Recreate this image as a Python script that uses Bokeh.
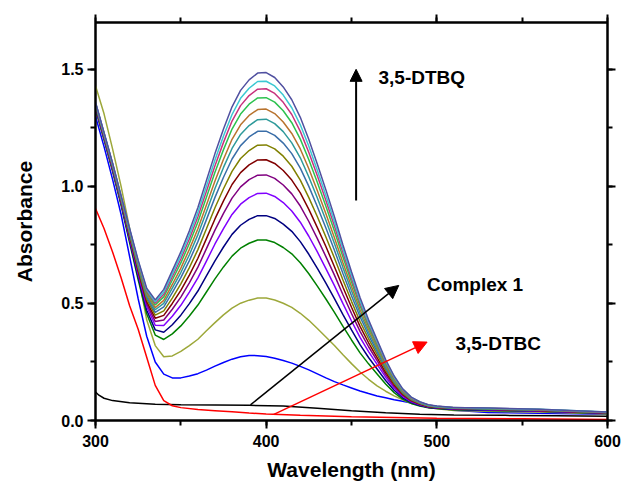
from bokeh.plotting import figure
from bokeh.models import (Range1d, LinearAxis, Arrow, NormalHead, Label,
                          SingleIntervalTicker, NumeralTickFormatter,
                          CustomJSTickFormatter)
from bokeh.embed import file_html
from bokeh.resources import INLINE

# ---------------- data ----------------
wl = [300, 305, 310, 315, 320, 325, 330, 335, 340, 345, 350, 355, 360, 365, 370,
      375, 380, 385, 390, 395, 400, 405, 410, 415, 420, 425, 430, 435, 440, 445,
      450, 455, 460, 465, 470, 475, 480, 485, 490, 495, 500, 510, 530, 560, 600]

complex1_wl = [300, 302, 305, 310, 320, 335, 350, 370, 390, 410, 430, 450, 470,
               490, 510, 540, 570, 600]
complex1 = [0.122, 0.108, 0.095, 0.085, 0.076, 0.069, 0.067, 0.066, 0.065, 0.062,
            0.052, 0.042, 0.033, 0.027, 0.024, 0.022, 0.020, 0.018]

dtbc_wl = [300, 305, 310, 315, 320, 325, 330, 335, 340, 345, 350, 360, 370, 380,
           390, 400, 420, 450, 500, 550, 600]
dtbc = [0.905, 0.82, 0.72, 0.61, 0.49, 0.39, 0.27, 0.15, 0.085, 0.063, 0.055, 0.047,
        0.042, 0.037, 0.032, 0.028, 0.022, 0.016, 0.010, 0.007, 0.004]

scan01 = [1.30, 1.17, 1.03, 0.88, 0.70, 0.52, 0.36, 0.25, 0.198, 0.182, 0.182, 0.19,
          0.200, 0.215, 0.232, 0.248, 0.262, 0.272, 0.278, 0.277, 0.273, 0.266, 0.256,
          0.245, 0.231, 0.216, 0.199, 0.182, 0.166, 0.152, 0.139, 0.126, 0.115, 0.105,
          0.097, 0.089, 0.082, 0.075, 0.068, 0.061, 0.054, 0.044, 0.034, 0.031, 0.027]
scan02 = [1.43, 1.31, 1.16, 1.00, 0.82, 0.62, 0.43, 0.32, 0.272, 0.276, 0.295, 0.320,
          0.347, 0.383, 0.418, 0.451, 0.480, 0.501, 0.514, 0.523, 0.523, 0.515, 0.501,
          0.483, 0.458, 0.428, 0.393, 0.357, 0.320, 0.281, 0.243, 0.207, 0.176, 0.148,
          0.125, 0.105, 0.088, 0.074, 0.064, 0.056, 0.050, 0.043, 0.039, 0.036, 0.028]
scan03 = [1.329, 1.199, 1.064, 0.919, 0.759, 0.601, 0.456, 0.365, 0.346, 0.370, 0.404,
          0.446, 0.493, 0.549, 0.605, 0.656, 0.702, 0.736, 0.757, 0.771, 0.771, 0.760,
          0.739, 0.712, 0.674, 0.627, 0.574, 0.519, 0.462, 0.402, 0.344, 0.289, 0.242,
          0.199, 0.156, 0.119, 0.091, 0.073, 0.062, 0.054, 0.051, 0.046, 0.043, 0.039,
          0.030]
scan04 = [1.334, 1.204, 1.070, 0.925, 0.768, 0.613, 0.471, 0.387, 0.377, 0.409, 0.450,
          0.499, 0.553, 0.618, 0.682, 0.741, 0.795, 0.834, 0.859, 0.875, 0.875, 0.863,
          0.839, 0.808, 0.764, 0.710, 0.650, 0.587, 0.521, 0.452, 0.387, 0.324, 0.269,
          0.220, 0.171, 0.129, 0.097, 0.077, 0.064, 0.056, 0.052, 0.047, 0.044, 0.040,
          0.031]
scan05 = [1.338, 1.208, 1.074, 0.931, 0.776, 0.624, 0.486, 0.407, 0.406, 0.445, 0.492,
          0.548, 0.609, 0.681, 0.754, 0.820, 0.880, 0.924, 0.952, 0.970, 0.971, 0.957,
          0.931, 0.895, 0.847, 0.787, 0.720, 0.649, 0.576, 0.499, 0.425, 0.355, 0.294,
          0.240, 0.185, 0.139, 0.103, 0.080, 0.067, 0.058, 0.054, 0.049, 0.046, 0.041,
          0.032]
scan06 = [1.341, 1.211, 1.078, 0.935, 0.783, 0.634, 0.498, 0.423, 0.429, 0.475, 0.527,
          0.588, 0.655, 0.734, 0.813, 0.885, 0.950, 0.998, 1.029, 1.048, 1.049, 1.034,
          1.006, 0.968, 0.916, 0.850, 0.777, 0.700, 0.621, 0.537, 0.457, 0.381, 0.315,
          0.256, 0.196, 0.146, 0.108, 0.083, 0.069, 0.059, 0.055, 0.050, 0.047, 0.042,
          0.032]
scan07 = [1.344, 1.214, 1.081, 0.939, 0.788, 0.641, 0.508, 0.437, 0.449, 0.500, 0.556,
          0.621, 0.693, 0.777, 0.861, 0.938, 1.008, 1.059, 1.092, 1.113, 1.114, 1.098,
          1.068, 1.027, 0.972, 0.902, 0.824, 0.743, 0.657, 0.569, 0.484, 0.402, 0.332,
          0.269, 0.206, 0.153, 0.112, 0.086, 0.070, 0.060, 0.056, 0.051, 0.048, 0.043,
          0.033]
scan08 = [1.347, 1.217, 1.085, 0.942, 0.794, 0.649, 0.518, 0.450, 0.468, 0.523, 0.584,
          0.653, 0.730, 0.819, 0.909, 0.990, 1.064, 1.119, 1.153, 1.176, 1.177, 1.160,
          1.129, 1.086, 1.027, 0.952, 0.870, 0.784, 0.694, 0.600, 0.509, 0.423, 0.349,
          0.282, 0.215, 0.159, 0.116, 0.088, 0.072, 0.062, 0.057, 0.052, 0.049, 0.044,
          0.033]
scan09 = [1.349, 1.219, 1.088, 0.946, 0.799, 0.656, 0.527, 0.462, 0.485, 0.546, 0.610,
          0.683, 0.764, 0.858, 0.953, 1.039, 1.117, 1.174, 1.211, 1.235, 1.236, 1.218,
          1.185, 1.140, 1.078, 1.000, 0.913, 0.822, 0.727, 0.628, 0.533, 0.443, 0.364,
          0.294, 0.224, 0.165, 0.120, 0.090, 0.074, 0.063, 0.058, 0.052, 0.049, 0.045,
          0.034]
scan10 = [1.351, 1.221, 1.090, 0.949, 0.803, 0.662, 0.534, 0.473, 0.500, 0.565, 0.632,
          0.708, 0.794, 0.892, 0.991, 1.081, 1.162, 1.222, 1.260, 1.285, 1.287, 1.268,
          1.234, 1.186, 1.122, 1.040, 0.950, 0.855, 0.756, 0.653, 0.554, 0.459, 0.377,
          0.304, 0.231, 0.170, 0.123, 0.092, 0.075, 0.063, 0.059, 0.053, 0.050, 0.045,
          0.034]
scan11 = [1.353, 1.223, 1.092, 0.951, 0.807, 0.667, 0.541, 0.482, 0.513, 0.581, 0.651,
          0.731, 0.819, 0.921, 1.023, 1.116, 1.201, 1.263, 1.303, 1.328, 1.330, 1.311,
          1.275, 1.226, 1.160, 1.075, 0.981, 0.883, 0.781, 0.674, 0.572, 0.474, 0.389,
          0.313, 0.237, 0.174, 0.125, 0.094, 0.076, 0.064, 0.060, 0.054, 0.051, 0.046,
          0.035]
scan12 = [1.355, 1.225, 1.095, 0.954, 0.811, 0.672, 0.549, 0.493, 0.528, 0.600, 0.673,
          0.756, 0.848, 0.954, 1.060, 1.157, 1.245, 1.309, 1.351, 1.378, 1.379, 1.360,
          1.323, 1.272, 1.202, 1.114, 1.017, 0.915, 0.809, 0.698, 0.592, 0.490, 0.402,
          0.323, 0.244, 0.179, 0.128, 0.096, 0.077, 0.065, 0.060, 0.054, 0.051, 0.047,
          0.035]
scan13 = [1.357, 1.227, 1.097, 0.956, 0.814, 0.677, 0.554, 0.501, 0.539, 0.614, 0.690,
          0.775, 0.870, 0.979, 1.088, 1.188, 1.279, 1.345, 1.388, 1.415, 1.417, 1.397,
          1.359, 1.307, 1.235, 1.145, 1.045, 0.940, 0.831, 0.716, 0.607, 0.502, 0.412,
          0.331, 0.250, 0.183, 0.131, 0.097, 0.078, 0.066, 0.061, 0.055, 0.052, 0.047,
          0.035]
scan14 = [1.358, 1.228, 1.098, 0.958, 0.817, 0.681, 0.559, 0.507, 0.549, 0.626, 0.704,
          0.791, 0.889, 1.001, 1.113, 1.215, 1.307, 1.376, 1.419, 1.448, 1.449, 1.429,
          1.390, 1.336, 1.263, 1.171, 1.068, 0.961, 0.849, 0.732, 0.620, 0.513, 0.420,
          0.338, 0.255, 0.186, 0.133, 0.099, 0.079, 0.066, 0.061, 0.055, 0.052, 0.048,
          0.036]
scan15 = [1.36, 1.23, 1.10, 0.96, 0.82, 0.685, 0.565, 0.515, 0.56, 0.64, 0.72, 0.81,
          0.91, 1.025, 1.14, 1.245, 1.34, 1.41, 1.455, 1.484, 1.486, 1.465, 1.425, 1.37,
          1.295, 1.20, 1.095, 0.985, 0.87, 0.75, 0.635, 0.525, 0.43, 0.345, 0.26, 0.19,
          0.135, 0.10, 0.08, 0.067, 0.062, 0.056, 0.053, 0.048, 0.036]

scans = [scan01, scan02, scan03, scan04, scan05, scan06, scan07, scan08, scan09,
         scan10, scan11, scan12, scan13, scan14, scan15]

# ---------------- styles ----------------
scan_colors = ["#0000FF", "#9DA83A", "#008000", "#000080", "#8000FF", "#800080",
               "#800000", "#808000", "#3A6EA8", "#2E9A9A", "#B8732E", "#2DC24F",
               "#C8327D", "#3CC8D2", "#5050A0"]
FONT = "Liberation Sans"

p = figure(width=622, height=486, output_backend="svg", toolbar_location=None,
           x_range=Range1d(300, 600), y_range=Range1d(0, 1.70),
           min_border_left=95, min_border_right=15, min_border_top=22,
           min_border_bottom=66)
p.background_fill_color = "white"
p.border_fill_color = "white"
p.outline_line_color = "black"
p.outline_line_width = 2
p.grid.visible = False

p.line(complex1_wl, complex1, line_color="black", line_width=1.5)
p.line(dtbc_wl, dtbc, line_color="#FF0000", line_width=1.5)
for ys, c in zip(scans, scan_colors):
    p.line(wl, ys, line_color=c, line_width=1.5)

def style_axis(ax, show_labels):
    ax.axis_line_width = 2
    ax.axis_line_color = "black"
    ax.major_tick_line_width = 2
    ax.minor_tick_line_width = 2
    ax.major_tick_out = 8
    ax.major_tick_in = 0
    ax.minor_tick_out = 5
    ax.minor_tick_in = 0
    ax.major_label_text_font = FONT
    ax.major_label_text_font_style = "bold"
    ax.major_label_text_color = "black"
    ax.major_label_standoff = 5
    ax.axis_label_text_font = FONT
    ax.axis_label_text_font_style = "bold"
    ax.axis_label_text_font_size = "21px"
    ax.axis_label_text_color = "black"
    if show_labels:
        ax.major_label_text_font_size = "16px"
    else:
        ax.formatter = CustomJSTickFormatter(code="return ''")
        ax.major_label_text_font_size = "1px"
        ax.major_label_standoff = 0

xt = SingleIntervalTicker(interval=100, num_minor_ticks=2)
yt = SingleIntervalTicker(interval=0.5, num_minor_ticks=2)

p.xaxis.ticker = xt
p.yaxis.ticker = yt
p.yaxis.formatter = NumeralTickFormatter(format="0.0")
p.xaxis.axis_label = "Wavelength (nm)"
p.yaxis.axis_label = "Absorbance"
style_axis(p.xaxis[0], True)
style_axis(p.yaxis[0], True)
p.xaxis.major_label_standoff = 6
p.yaxis.major_label_standoff = 4
p.xaxis.axis_label_standoff = 8
p.yaxis.axis_label_standoff = 22

top_ax = LinearAxis(ticker=SingleIntervalTicker(interval=100, num_minor_ticks=2))
right_ax = LinearAxis(ticker=SingleIntervalTicker(interval=0.5, num_minor_ticks=2))
style_axis(top_ax, False)
style_axis(right_ax, False)
p.add_layout(top_ax, "above")
p.add_layout(right_ax, "right")

# annotations
p.add_layout(Arrow(end=NormalHead(size=12, fill_color="black", line_color="black"),
                   x_start=452.7, y_start=0.94, x_end=452.7, y_end=1.50,
                   line_color="black", line_width=2))
p.add_layout(Arrow(end=NormalHead(size=13, fill_color="black", line_color="black"),
                   x_start=390.8, y_start=0.067, x_end=477.7, y_end=0.577,
                   line_color="black", line_width=1.5))
p.add_layout(Arrow(end=NormalHead(size=13, fill_color="#FF0000", line_color="#FF0000"),
                   x_start=404.5, y_start=0.026, x_end=494.3, y_end=0.335,
                   line_color="#FF0000", line_width=1.5))

for tx, ty, tt in [(465.8, 1.467, "3,5-DTBQ"), (494.3, 0.58, "Complex 1"),
                   (510.9, 0.328, "3,5-DTBC")]:
    p.add_layout(Label(x=tx, y=ty, text=tt, text_font=FONT, text_font_style="bold",
                       text_font_size="19px", text_baseline="middle",
                       text_color="black"))

open("out.html", "w").write(file_html(p, INLINE))
